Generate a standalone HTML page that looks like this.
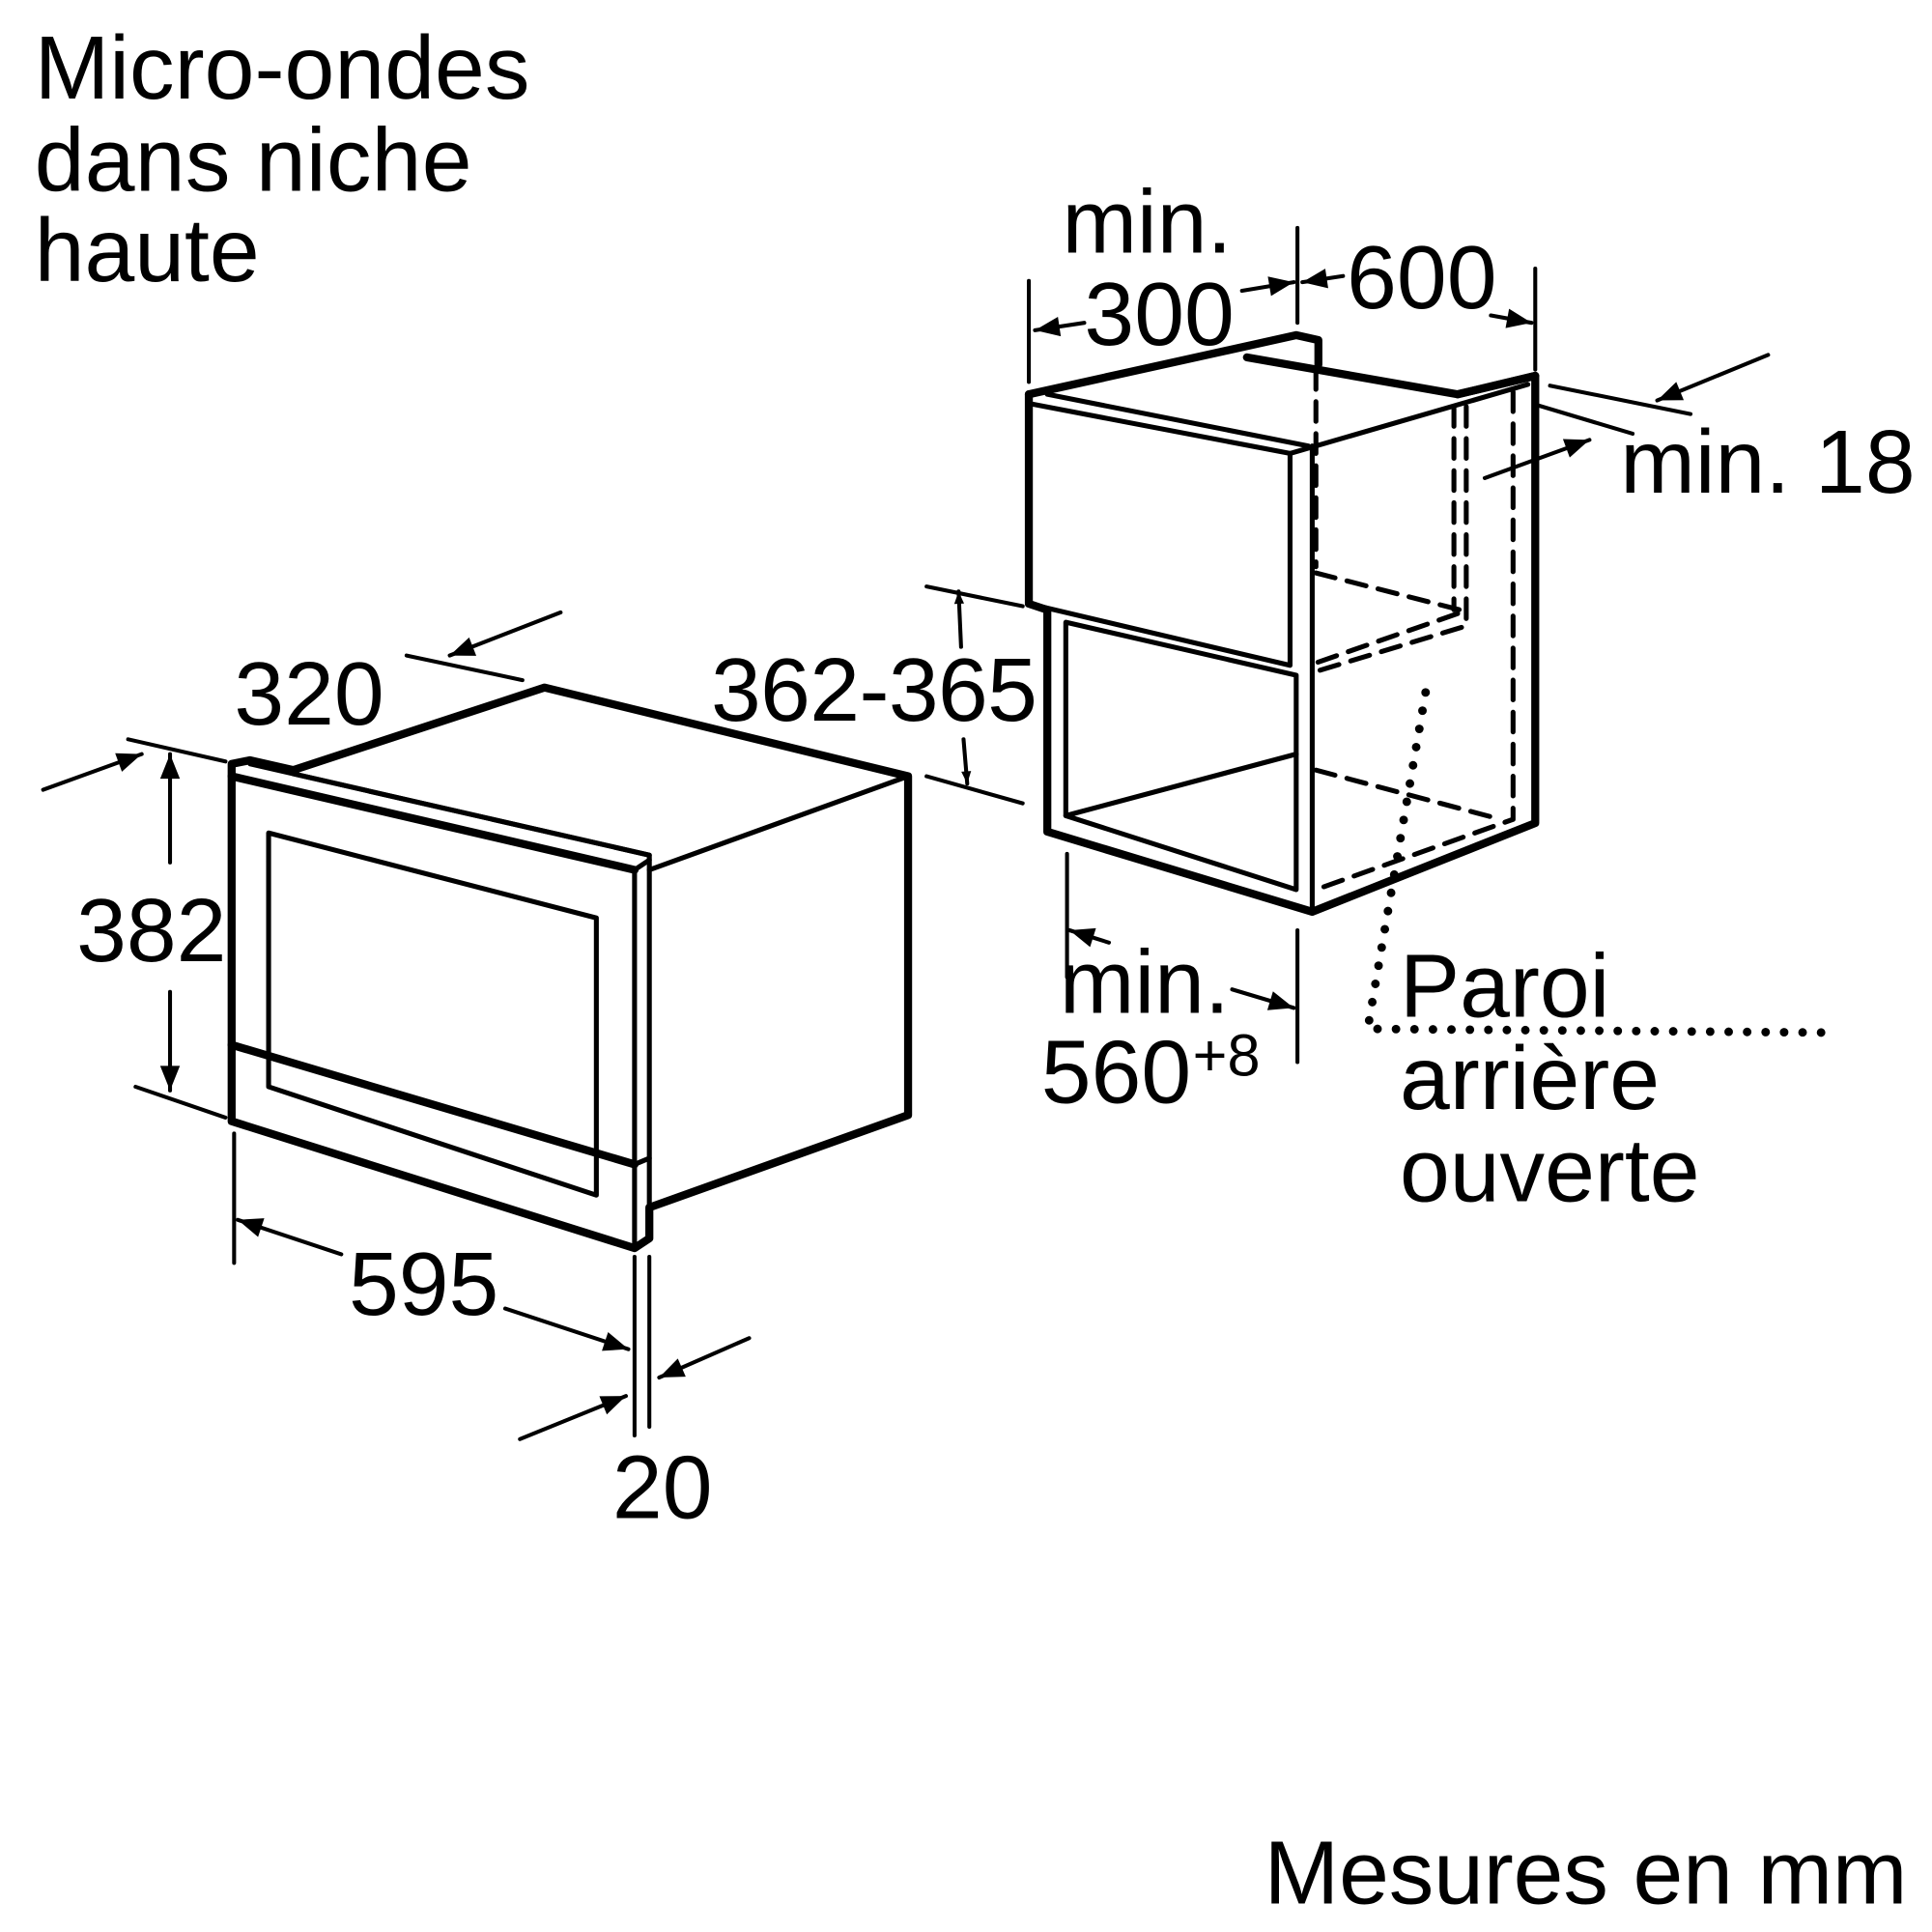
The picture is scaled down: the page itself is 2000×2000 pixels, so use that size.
<!DOCTYPE html>
<html><head><meta charset="utf-8"><style>
html,body{margin:0;padding:0;background:#fff;}
svg{display:block;}
text{font-family:"Liberation Sans",Arial,sans-serif;fill:#000;}
</style></head><body>
<svg width="2000" height="2000" viewBox="0 0 1568 1568" xmlns="http://www.w3.org/2000/svg">
<defs>
<marker id="a" viewBox="0 0 10 10" refX="10" refY="5" markerWidth="12" markerHeight="10" markerUnits="userSpaceOnUse" orient="auto">
<path d="M0,1 L10,5 L0,9 z" fill="#000"/></marker>
<marker id="b" viewBox="0 0 10 10" refX="10" refY="5" markerWidth="28" markerHeight="20" markerUnits="userSpaceOnUse" orient="auto">
<path d="M0,1 L10,5 L0,9 z" fill="#000"/></marker>
</defs>
<g font-size="73">
<text x="28" y="80" textLength="402">Micro-ondes</text>
<text x="28" y="155" textLength="355">dans niche</text>
<text x="28" y="228">haute</text>
<text x="1026" y="1545" textLength="522">Mesures en mm</text>
<text x="190" y="588">320</text>
<text x="62" y="780">382</text>
<text x="283" y="1067">595</text>
<text x="497" y="1232">20</text>
<text x="577" y="585" textLength="265">362-365</text>
<text x="862" y="205">min.</text>
<text x="880" y="280">300</text>
<text x="1093" y="250">600</text>
<text x="1315" y="400">min. 18</text>
<text x="860" y="822">min.</text>
<text x="845" y="895">560</text>
<text x="968" y="873" font-size="48">+8</text>
<text x="1136" y="825">Paroi</text>
<text x="1136" y="900">arrière</text>
<text x="1136" y="975">ouverte</text>
</g>
<g fill="none" stroke="#000" stroke-linejoin="round" stroke-linecap="round">
<!-- oven -->
<g stroke-width="6.5">
<path d="M188,620 L188,910 L515,1013 L527,1005 L527,980 L737,905 L737,630 L442,558 L238,625 L203,617 L188,620"/>
<path d="M188,630 L515,706"/>
<path d="M188,848 L515,945"/>
</g>
<g stroke-width="4">
<path d="M203,620 L527,694 L527,1005"/>
<path d="M238,628 L527,694"/>
<path d="M515,706 L515,1013"/>
<path d="M515,706 L527,698"/>
<path d="M527,706 L737,630"/>
<path d="M218,676 L484,745 L484,970 L218,882 Z"/>
<path d="M515,945 L527,940"/>
</g>
<!-- niche -->
<g stroke-width="6.5">
<path d="M835,320 L835,490 L850,495 L850,675 L1065,740 L1246,668 L1246,305 L1183,320 L1012,290"/>
<path d="M835,320 L1052,272 L1070,276 L1070,296"/>
<path d="M1183,320 L1246,305"/>
</g>
<g stroke-width="4">
<path d="M838,328 L1047,368 L1047,540 L835,490"/>
<path d="M850,320 L1062,362"/>
<path d="M1047,368 L1240,312"/>
<path d="M1065,362 L1065,738"/>
<path d="M865,505 L1052,548 L1052,722 L865,662 Z"/>
<path d="M865,662 L1052,612"/>
</g>
<g stroke-width="4" stroke-dasharray="16,10">
<path d="M1068,300 L1068,460"/>
<path d="M1068,465 L1185,495"/>
<path d="M1180,330 L1180,495"/>
<path d="M1190,330 L1190,508 L1068,545"/>
<path d="M1183,498 L1068,538"/>
<path d="M1228,318 L1228,665 L1068,722"/>
<path d="M1068,625 L1218,665"/>
</g>
<path d="M1157,562 L1110,835 L1478,838" stroke-width="7" stroke-dasharray="0,15"/>
<!-- dimensions -->
<g stroke-width="3.2">
<path d="M330,532 L424,552"/>
<path d="M455,497 L365,532" marker-end="url(#b)"/>
<path d="M104,600 L183,618"/>
<path d="M35,641 L115,612" marker-end="url(#b)"/>
<path d="M138,700 L138,612" marker-end="url(#b)"/>
<path d="M138,805 L138,885" marker-end="url(#b)"/>
<path d="M110,882 L183,907"/>
<path d="M190,920 L190,1025"/>
<path d="M515,1020 L515,1165"/>
<path d="M527,1020 L527,1158"/>
<path d="M277,1018 L193,990" marker-end="url(#b)"/>
<path d="M410,1062 L510,1095" marker-end="url(#b)"/>
<path d="M422,1168 L508,1133" marker-end="url(#b)"/>
<path d="M608,1086 L535,1118" marker-end="url(#b)"/>
<path d="M752,476 L830,492"/>
<path d="M752,630 L830,652"/>
<path d="M780,525 L778,480" marker-end="url(#a)"/>
<path d="M782,600 L785,636" marker-end="url(#a)"/>
<path d="M835,228 L835,310"/>
<path d="M1053,185 L1053,262"/>
<path d="M1246,218 L1246,300"/>
<path d="M880,262 L840,268" marker-end="url(#b)"/>
<path d="M1008,236 L1050,229" marker-end="url(#b)"/>
<path d="M1090,224 L1057,229" marker-end="url(#b)"/>
<path d="M1210,256 L1243,262" marker-end="url(#b)"/>
<path d="M1258,313 L1372,336"/>
<path d="M1245,328 L1325,352"/>
<path d="M1435,288 L1345,325" marker-end="url(#b)"/>
<path d="M1205,388 L1290,357" marker-end="url(#b)"/>
<path d="M866,693 L866,793"/>
<path d="M1053,755 L1053,862"/>
<path d="M900,765 L868,755" marker-end="url(#b)"/>
<path d="M1000,803 L1050,818" marker-end="url(#b)"/>
</g>
</g>
</svg>
</body></html>
